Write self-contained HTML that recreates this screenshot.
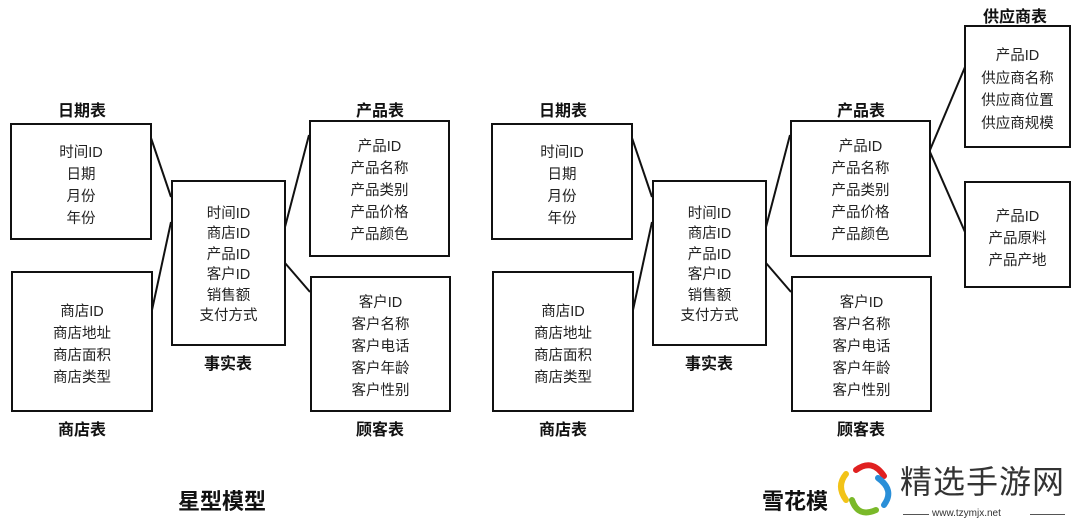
<!DOCTYPE html>
<html><head><meta charset="utf-8"><style>
body{margin:0;width:1080px;height:528px;background:#fff;position:relative;overflow:hidden;font-family:"Liberation Sans","Noto Sans CJK SC",sans-serif;color:#222}
.b{position:absolute;border:2px solid #111;box-sizing:border-box;text-align:center;font-size:14.5px}
.b div{position:absolute;left:0;right:0}
.t{position:absolute;font-weight:bold;font-size:16px;text-align:center;width:100px;color:#111}
svg{position:absolute;left:0;top:0}
</style></head><body>
<svg width="1080" height="528"><g stroke="#111" stroke-width="2">
<line x1="151" y1="138" x2="171" y2="197"/><line x1="152" y1="310" x2="171" y2="222"/>
<line x1="285" y1="227" x2="309" y2="135"/><line x1="285" y1="263" x2="310" y2="292"/>
<line x1="632" y1="138" x2="652" y2="197"/><line x1="633" y1="310" x2="652" y2="222"/>
<line x1="766" y1="227" x2="790" y2="135"/><line x1="766" y1="263" x2="791" y2="292"/>
<line x1="930" y1="150" x2="965" y2="67"/><line x1="930" y1="152" x2="965" y2="232"/>
</g></svg>

<!-- left -->
<div class="t" style="left:32px;top:97px">日期表</div>
<div class="b" style="left:10px;top:123px;width:142px;height:117px"><div style="top:17px;line-height:22px">时间ID<br>日期<br>月份<br>年份</div></div>
<div class="b" style="left:11px;top:271px;width:142px;height:141px"><div style="top:28px;line-height:22px">商店ID<br>商店地址<br>商店面积<br>商店类型</div></div>
<div class="t" style="left:32px;top:416px">商店表</div>
<div class="b" style="left:171px;top:180px;width:115px;height:166px"><div style="top:22px;line-height:20.4px">时间ID<br>商店ID<br>产品ID<br>客户ID<br>销售额<br>支付方式</div></div>
<div class="t" style="left:178px;top:350px">事实表</div>
<div class="t" style="left:330px;top:97px">产品表</div>
<div class="b" style="left:309px;top:120px;width:141px;height:137px"><div style="top:14px;line-height:22px">产品ID<br>产品名称<br>产品类别<br>产品价格<br>产品颜色</div></div>
<div class="b" style="left:310px;top:276px;width:141px;height:136px"><div style="top:14px;line-height:22px">客户ID<br>客户名称<br>客户电话<br>客户年龄<br>客户性别</div></div>
<div class="t" style="left:330px;top:416px">顾客表</div>

<!-- right -->
<div class="t" style="left:513px;top:97px">日期表</div>
<div class="b" style="left:491px;top:123px;width:142px;height:117px"><div style="top:17px;line-height:22px">时间ID<br>日期<br>月份<br>年份</div></div>
<div class="b" style="left:492px;top:271px;width:142px;height:141px"><div style="top:28px;line-height:22px">商店ID<br>商店地址<br>商店面积<br>商店类型</div></div>
<div class="t" style="left:513px;top:416px">商店表</div>
<div class="b" style="left:652px;top:180px;width:115px;height:166px"><div style="top:22px;line-height:20.4px">时间ID<br>商店ID<br>产品ID<br>客户ID<br>销售额<br>支付方式</div></div>
<div class="t" style="left:659px;top:350px">事实表</div>
<div class="t" style="left:811px;top:97px">产品表</div>
<div class="b" style="left:790px;top:120px;width:141px;height:137px"><div style="top:14px;line-height:22px">产品ID<br>产品名称<br>产品类别<br>产品价格<br>产品颜色</div></div>
<div class="b" style="left:791px;top:276px;width:141px;height:136px"><div style="top:14px;line-height:22px">客户ID<br>客户名称<br>客户电话<br>客户年龄<br>客户性别</div></div>
<div class="t" style="left:811px;top:416px">顾客表</div>
<div class="t" style="left:965px;top:3px">供应商表</div>
<div class="b" style="left:964px;top:25px;width:107px;height:123px"><div style="top:18px;line-height:22.5px">产品ID<br>供应商名称<br>供应商位置<br>供应商规模</div></div>
<div class="b" style="left:964px;top:181px;width:107px;height:107px"><div style="top:23px;line-height:22px">产品ID<br>产品原料<br>产品产地</div></div>

<div style="position:absolute;left:178px;top:484px;font-size:22px;font-weight:bold;color:#111">星型模型</div>
<div style="position:absolute;left:762px;top:484px;font-size:22px;font-weight:bold;color:#111;white-space:nowrap">雪花模</div>
<svg width="1080" height="528"><g fill="none" stroke-width="6" stroke-linecap="round">
<path d="M856 470 Q872 458 884 476" stroke="#e02020"/>
<path d="M878 478 Q895 490 884 505" stroke="#2a8fd8"/>
<path d="M876 510 Q858 518 852 500" stroke="#7ab929"/>
<path d="M846 500 Q836 486 846 474" stroke="#f2c318"/>
</g></svg>
<div style="position:absolute;left:900px;top:462px;font-size:32px;line-height:40px;color:#333;white-space:nowrap;letter-spacing:1px">精选手游网</div>
<div style="position:absolute;left:903px;top:514px;width:26px;border-top:1.5px solid #555"></div>
<div style="position:absolute;left:932px;top:508px;font-size:10px;line-height:12px;color:#333;white-space:nowrap">www.tzymjx.net</div>
<div style="position:absolute;left:1030px;top:514px;width:35px;border-top:1.5px solid #555"></div>
</body></html>
